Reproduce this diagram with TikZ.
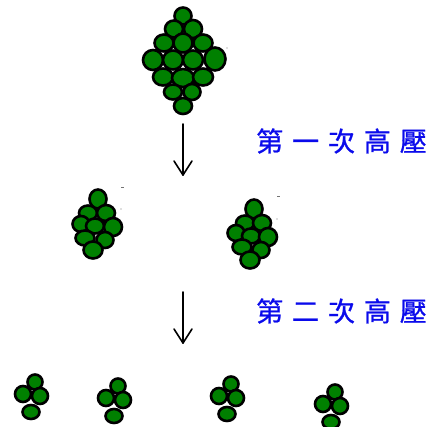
\documentclass[tikz,border=0pt]{standalone}
\usepackage{fontspec}
\newfontfamily\cjk{Noto Sans CJK TC}

\definecolor{grapegreen}{RGB}{0,128,0}
\definecolor{stepblue}{RGB}{10,10,235}

\tikzset{
    grape/.style={draw=black, fill=grapegreen, line width=2.6pt},
    stagearrow/.style={line width=1.6pt, line cap=round, line join=round},
    stagetext/.style={anchor=west, inner sep=0pt, text=stepblue,
        font=\cjk\fontsize{27}{27}\selectfont\addfontfeature{LetterSpace=33,FakeBold=1}},
    speck/.style={line width=0.8pt, draw=black!55}
}

\begin{document}
\begin{tikzpicture}[x=1pt, y=-1pt]
            \useasboundingbox (0,0) rectangle (433,427);

            % Whole bunch before pressing
            \foreach \x/\y/\rx/\ry in {183/16/8.5/8.5,
                    174/29/9/8.5, 193/29/9/9,
                    164/43/9.5/8.5, 183/43/9.5/9.5, 203/43/9.5/8.5,
                    153/60/10/10, 173/60/10/9.5, 193/60/10/9.5, 215/59/10.5/11.5,
                    163/77/10/8.5, 183/78/11/9, 203/77/10/8.5,
                    173/92/9/7.5, 192/92/8.5/8,
                    183/106/9/8}
                \draw[grape] (\x,\y) ellipse [x radius=\rx, y radius=\ry];

            % First arrow
            \coordinate (arrowAtop) at (183,124);
            \coordinate (arrowAtip) at (183,175);
            \draw[stagearrow] (arrowAtop) -- (arrowAtip);
            \draw[stagearrow] (arrowAtip) -- ++(-9,-14);
            \draw[stagearrow] (arrowAtip) -- ++(9,-14);
            \node[stagetext] (stepA) at (256,141) {第一次高壓};

            % Two halves after the first pressing
            % -- left half
            \foreach \x/\y/\rx/\ry in {98/199/8.5/9.5,
                    88/213/9/7.5, 106/213/9/8,
                    81/224/8.5/8, 95/226/9/7.5, 113/227/9/9,
                    85/238/9.5/7.5, 105/240/8.5/8,
                    93/250/9.5/8.5}
                \draw[grape] (\x,\y) ellipse [x radius=\rx, y radius=\ry];
            % -- right half
            \foreach \x/\y/\rx/\ry in {254/209/8.5/9.5,
                    245/223/9/7.5, 262/223/9/8,
                    236/233/8.5/8, 251/236/9/7.5, 268/237/9/9,
                    242/247/9.5/7.5, 261/250/8.5/8,
                    250/260/9.5/8.5}
                \draw[grape] (\x,\y) ellipse [x radius=\rx, y radius=\ry];

            % Specks
            \draw[speck] (121,187) -- (124,187);
            \fill[black!55] (121,209) circle (0.7);
            \draw[speck] (277,196) -- (280,196);
            \fill[black!55] (277,219) circle (0.7);
            \fill[black!55] (227,48) circle (0.7);

            % Second arrow
            \coordinate (arrowBtop) at (183,292);
            \coordinate (arrowBtip) at (183,343);
            \draw[stagearrow] (arrowBtop) -- (arrowBtip);
            \draw[stagearrow] (arrowBtip) -- ++(-9,-14);
            \draw[stagearrow] (arrowBtip) -- ++(9,-14);
            \node[stagetext] (stepB) at (256,311) {第二次高壓};

            % Four small clumps after the second pressing
            \foreach \cx/\cy in {31/396, 114/400, 227/398, 331/406} {
                \draw[grape] (\cx+4,\cy-14) ellipse [x radius=7.5, y radius=7.5];
                \draw[grape] (\cx-8,\cy-2) ellipse [x radius=8, y radius=8];
                \draw[grape] (\cx+9,\cy) ellipse [x radius=8, y radius=8];
                \draw[grape] (\cx,\cy+16) ellipse [x radius=8.5, y radius=7];
            }
        \end{tikzpicture}
\end{document}
